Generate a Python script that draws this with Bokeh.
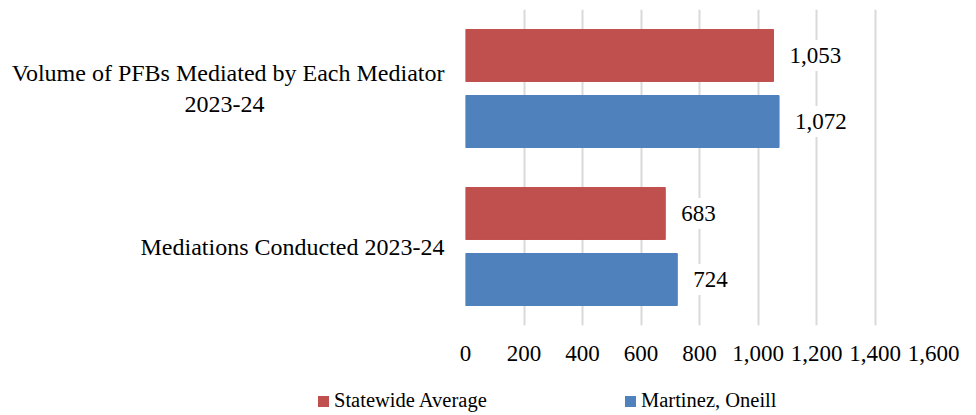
from bokeh.plotting import figure
from bokeh.layouts import column
from bokeh.models import (Range1d, FixedTicker, NumeralTickFormatter, ColumnDataSource,
                          Label, Div)
from bokeh.embed import file_html
from bokeh.resources import INLINE

categories = ["Volume of PFBs Mediated by Each Mediator\n2023-24", "Mediations Conducted 2023-24"]
series_names = ["Statewide Average", "Martinez, Oneill"]
statewide = [1053, 683]
martinez = [1072, 724]
x_ticks = [0, 200, 400, 600, 800, 1000, 1200, 1400, 1600]

RED = "#c0504d"
BLUE = "#4f81bd"
FONT = "Liberation Serif"
FS = "23px"

n = len(categories)
centers = [n - i - 0.5 for i in range(n)]  # first category on top
off = 0.209
bh = 0.329


def centered_lines(label):
    # pad shorter lines with trailing no-break spaces so right-aligned lines look centred
    lines = label.split("\n")
    longest = max(len(l) for l in lines)
    out = []
    for l in lines:
        pad = int(round((longest - len(l)) * 10.9 / 2 / 6.0))
        out.append(l + "\u00a0" * pad)
    return "\n".join(out)


src_s = ColumnDataSource(dict(y=[c + off for c in centers], v=statewide))
src_m = ColumnDataSource(dict(y=[c - off for c in centers], v=martinez))

p = figure(frame_width=468, frame_height=316, output_backend="svg", toolbar_location=None,
           x_range=Range1d(0, x_ticks[-1]), y_range=Range1d(0, n),
           min_border_left=465, min_border_right=35, min_border_top=9, min_border_bottom=50)
p.outline_line_color = None
p.ygrid.grid_line_color = None
p.xgrid.grid_line_color = "#d9d9d9"
p.xgrid.grid_line_width = 2

p.yaxis.ticker = FixedTicker(ticks=centers)
p.yaxis.major_label_overrides = {c: centered_lines(name) for c, name in zip(centers, categories)}
p.yaxis.axis_line_color = None
p.yaxis.major_tick_line_color = None
p.yaxis.minor_tick_line_color = None
p.yaxis.major_label_text_font = FONT
p.yaxis.major_label_text_font_size = "24px"
p.yaxis.major_label_text_color = "#000000"
p.yaxis.major_label_standoff = 15

p.xaxis.ticker = FixedTicker(ticks=x_ticks)
p.xaxis.formatter = NumeralTickFormatter(format="0,0")
p.xaxis.axis_line_color = None
p.xaxis.major_tick_line_color = None
p.xaxis.minor_tick_line_color = None
p.xaxis.major_label_text_font = FONT
p.xaxis.major_label_text_font_size = FS
p.xaxis.major_label_text_color = "#000000"
p.xaxis.major_label_standoff = 14

p.hbar(y="y", right="v", left=0, height=bh, source=src_s, fill_color=RED, line_color=RED)
p.hbar(y="y", right="v", left=0, height=bh, source=src_m, fill_color=BLUE, line_color=BLUE)

for src in (src_s, src_m):
    for yv, v in zip(src.data["y"], src.data["v"]):
        p.add_layout(Label(x=v, y=yv, text=f"{v:,}", x_offset=8,
                           text_align="left", text_baseline="middle",
                           text_font=FONT, text_font_size=FS, text_color="#000000",
                           background_fill_color="white", padding=8))

# legend strip below the chart
item_widths = [307, 300]
items_html = ""
for name, col, w in zip(series_names, [RED, BLUE], item_widths):
    items_html += (f'<span style="display:inline-block;width:{w}px;white-space:nowrap">'
                   f'<span style="display:inline-block;width:11px;height:11px;background:{col};'
                   f'margin-right:5px;vertical-align:baseline"></span>{name}</span>')
legend_div = Div(text=f'<div style="font-family:\'{FONT}\';font-size:20.5px;color:#000000;'
                      f'line-height:24px;padding-left:318px;padding-top:13px;white-space:nowrap">'
                      f'{items_html}</div>',
                 width=968, height=37, margin=(0, 0, 0, 0))

layout = column(p, legend_div, spacing=0)
open("out.html", "w").write(file_html(layout, INLINE))
